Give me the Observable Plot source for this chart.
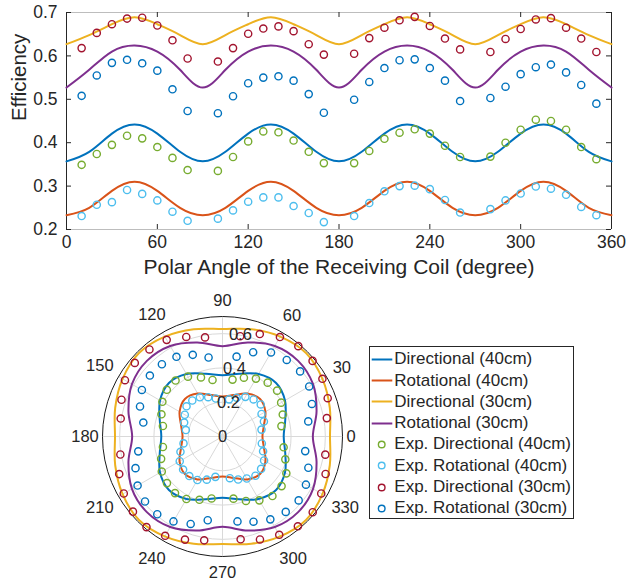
<!DOCTYPE html>
<html>
<head>
<meta charset="utf-8">
<script src="https://cdn.jsdelivr.net/npm/d3@7"></script>
<script src="https://cdn.jsdelivr.net/npm/@observablehq/plot@0.6"></script>
<style>
  body { margin: 0; background: #fff; }
  #wrap { position: relative; width: 626px; height: 580px; font-family: "Liberation Sans", Arial, Helvetica, sans-serif; color: #262626; }
  #top { position: absolute; left: 0; top: 0; }
  #polar { position: absolute; left: 0; top: 290px; }
  #legend { position: absolute; left: 369px; top: 346px; width: 205px; height: 173px; box-sizing: border-box;
            border: 1px solid #262626; background: #fff; padding-top: 1.6px; }
  .row { height: 21.3px; display: flex; align-items: center; font-size: 17px; white-space: nowrap; }
  .row svg { flex: none; }
</style>
</head>
<body>
<div id="wrap">
  <div id="top"></div>
  <div id="polar"></div>
  <div id="legend"></div>
</div>
<script>
// ---------- data ----------
const seriesNames = ["Directional (40cm)", "Rotational (40cm)", "Directional (30cm)", "Rotational (30cm)",
  "Exp. Directional (40cm)", "Exp. Rotational (40cm)", "Exp. Directional (30cm)", "Exp. Rotational (30cm)"];
const seriesColors = ["#0072BD", "#D95319", "#EDB120", "#7E2F8E", "#77AC30", "#4DBEEE", "#A2142F", "#0072BD"];

const simAngles = [0, 15, 30, 45, 60, 75, 90, 105, 120, 135, 150, 165, 180, 195, 210, 225, 240, 255, 270, 285, 300, 315, 330, 345, 360];
const simDir40 = [0.357, 0.379, 0.421, 0.442, 0.421, 0.379, 0.357, 0.379, 0.421, 0.442, 0.421, 0.379, 0.357, 0.379, 0.421, 0.442, 0.421, 0.379, 0.357, 0.379, 0.421, 0.442, 0.421, 0.379, 0.357];
const simRot40 = [0.233, 0.250, 0.289, 0.310, 0.289, 0.250, 0.233, 0.250, 0.289, 0.310, 0.289, 0.250, 0.233, 0.250, 0.289, 0.310, 0.289, 0.250, 0.233, 0.250, 0.289, 0.310, 0.289, 0.250, 0.233];
const simDir30 = [0.627, 0.648, 0.673, 0.689, 0.673, 0.648, 0.627, 0.648, 0.673, 0.689, 0.673, 0.648, 0.627, 0.648, 0.673, 0.689, 0.673, 0.648, 0.627, 0.648, 0.673, 0.689, 0.673, 0.648, 0.627];
const simRot30 = [0.527, 0.568, 0.610, 0.624, 0.610, 0.568, 0.527, 0.568, 0.610, 0.624, 0.610, 0.568, 0.527, 0.568, 0.610, 0.624, 0.610, 0.568, 0.527, 0.568, 0.610, 0.624, 0.610, 0.568, 0.527];

const expAngles = [10, 20, 30, 40, 50, 60, 70, 80, 100, 110, 120, 130, 140, 150, 160, 170,
  190, 200, 210, 220, 230, 240, 250, 260, 280, 290, 300, 310, 320, 330, 340, 350];
const expDir40 = [0.349, 0.374, 0.395, 0.416, 0.410, 0.390, 0.365, 0.337, 0.335, 0.367, 0.403, 0.426, 0.424, 0.405, 0.379, 0.353,
  0.353, 0.381, 0.409, 0.423, 0.431, 0.421, 0.393, 0.367, 0.368, 0.400, 0.430, 0.453, 0.450, 0.430, 0.390, 0.362];
const expRot40 = [0.231, 0.257, 0.263, 0.291, 0.282, 0.267, 0.241, 0.220, 0.225, 0.244, 0.264, 0.274, 0.274, 0.254, 0.238, 0.217,
  0.231, 0.261, 0.288, 0.300, 0.301, 0.293, 0.268, 0.239, 0.247, 0.267, 0.283, 0.299, 0.294, 0.280, 0.252, 0.233];
const expDir30 = [0.618, 0.653, 0.673, 0.686, 0.688, 0.670, 0.636, 0.594, 0.587, 0.618, 0.651, 0.663, 0.668, 0.657, 0.627, 0.603,
  0.605, 0.641, 0.665, 0.682, 0.690, 0.669, 0.640, 0.615, 0.609, 0.639, 0.662, 0.684, 0.687, 0.665, 0.640, 0.609];
const expRot30 = [0.508, 0.555, 0.584, 0.591, 0.583, 0.566, 0.523, 0.473, 0.468, 0.507, 0.537, 0.550, 0.553, 0.543, 0.512, 0.469,
  0.499, 0.540, 0.572, 0.590, 0.592, 0.572, 0.543, 0.496, 0.503, 0.529, 0.558, 0.574, 0.580, 0.562, 0.533, 0.490];

const xTicks = [0, 60, 120, 180, 240, 300, 360];
const yTicks = [0.2, 0.3, 0.4, 0.5, 0.6, 0.7];
const thetaTicks = [0, 30, 60, 90, 120, 150, 180, 210, 240, 270, 300, 330];
const rTicks = [0, 0.2, 0.4, 0.6];
const rMax = 0.7;
const xTitle = "Polar Angle of the Receiving Coil (degree)";
const yTitle = "Efficiency";

// ---------- tables ----------
const simSets = [[seriesNames[0], simDir40], [seriesNames[1], simRot40], [seriesNames[2], simDir30], [seriesNames[3], simRot30]];
const expSets = [[seriesNames[4], expDir40], [seriesNames[5], expRot40], [seriesNames[6], expDir30], [seriesNames[7], expRot30]];
const simRows = simSets.flatMap(([s, vals]) => simAngles.map((a, i) => ({series: s, angle: a, value: vals[i]})));
const expRows = expSets.flatMap(([s, vals]) => expAngles.map((a, i) => ({series: s, angle: a, value: vals[i]})));

const font = '"Liberation Sans", Arial, Helvetica, sans-serif';
const ink = "#262626";
const colorScale = {domain: seriesNames, range: seriesColors};

// ---------- top chart ----------
const H = 290, mT = 12, mB = 61, mL = 66, mR = 15;
const fw = 626 - mL - mR, fh = H - mT - mB, tk = 5;
const topPlot = Plot.plot({
  width: 626, height: H, marginLeft: mL, marginRight: mR, marginTop: mT, marginBottom: mB,
  x: {domain: [0, 360], axis: null},
  y: {domain: [0.2, 0.7], axis: null},
  color: colorScale,
  style: {fontFamily: font, fontSize: "17px", color: ink, background: "transparent", overflow: "visible"},
  marks: [
    Plot.ruleY([0.2, 0.7], {stroke: "#bdbdbd", strokeWidth: 1}),
    Plot.ruleX([0, 360], {stroke: ink, strokeWidth: 1}),
    Plot.tickX(xTicks, {x: d => d, insetTop: fh - tk, stroke: ink}),
    Plot.tickX(xTicks, {x: d => d, insetBottom: fh - tk, stroke: ink}),
    Plot.tickY(yTicks, {y: d => d, insetRight: fw - tk, stroke: ink}),
    Plot.tickY(yTicks, {y: d => d, insetLeft: fw - tk, stroke: ink}),
    Plot.line(simRows, {x: "angle", y: "value", z: "series", stroke: "series", strokeWidth: 2, curve: "natural"}),
    Plot.dot(expRows, {x: "angle", y: "value", stroke: "series", r: 3.6, strokeWidth: 1.4, fill: "none"}),
    Plot.text(xTicks, {x: d => d, frameAnchor: "bottom", dy: 18, text: d => String(d), fontSize: 17.5, fill: ink}),
    Plot.text(yTicks, {y: d => d, frameAnchor: "left", dx: -9, textAnchor: "end", text: d => d.toFixed(1), fontSize: 17.5, fill: ink}),
    Plot.text([xTitle], {frameAnchor: "bottom", dy: 44, fontSize: 21, fill: ink}),
    Plot.text([yTitle], {frameAnchor: "left", dx: -47, rotate: -90, fontSize: 20.5, fill: ink})
  ]
});
document.getElementById("top").appendChild(topPlot);

// ---------- polar chart ----------
const rad = Math.PI / 180;
const Rpx = 120;
const pxToR = rMax / Rpx;
const cx = d => d.value * Math.cos(d.angle * rad);
const cy = d => d.value * Math.sin(d.angle * rad);
function labelRadius(a) {
  const len = String(a).length;
  const c = Math.abs(Math.cos(a * rad)), s = Math.abs(Math.sin(a * rad));
  return (124 + c * (9 * len) / 2 + s * 12) * pxToR;
}
const polarPlot = Plot.plot({
  width: 360, height: 290, marginLeft: 102, marginRight: 18, marginTop: 26, marginBottom: 24,
  x: {domain: [-rMax, rMax], axis: null},
  y: {domain: [-rMax, rMax], axis: null},
  r: {type: "linear", domain: [0, rMax], range: [0, Rpx]},
  color: colorScale,
  style: {fontFamily: font, fontSize: "16.5px", color: ink, background: "transparent", overflow: "visible"},
  marks: [
    Plot.dot(rTicks.filter(d => d > 0), {x: () => 0, y: () => 0, r: d => d, stroke: "#d9d9d9", strokeWidth: 1, fill: "none"}),
    Plot.link(thetaTicks, {x1: () => 0, y1: () => 0, x2: d => rMax * Math.cos(d * rad), y2: d => rMax * Math.sin(d * rad), stroke: "#d9d9d9", strokeWidth: 1}),
    Plot.dot([rMax], {x: () => 0, y: () => 0, r: d => d, stroke: "#1a1a1a", strokeWidth: 1, fill: "none"}),
    Plot.line(simRows.filter(d => d.angle < 360), {x: cx, y: cy, z: "series", stroke: "series", strokeWidth: 2, curve: "catmull-rom-closed"}),
    Plot.dot(expRows, {x: cx, y: cy, stroke: "series", r: 3.6, strokeWidth: 1.4, fill: "none"}),
    Plot.text(thetaTicks, {x: d => labelRadius(d) * Math.cos(d * rad), y: d => labelRadius(d) * Math.sin(d * rad), text: d => String(d), fontSize: 16.5, fill: ink}),
    Plot.text(rTicks, {x: d => d * Math.cos(80 * rad), y: d => d * Math.sin(80 * rad), text: d => String(d), fontSize: 16.5, fill: ink})
  ]
});
document.getElementById("polar").appendChild(polarPlot);

// ---------- legend ----------
const legend = document.getElementById("legend");
seriesNames.forEach((name, i) => {
  const row = document.createElement("div");
  row.className = "row";
  const isLine = i < 4;
  const sample = isLine
    ? `<line x1="1.7" x2="22.3" y1="10.5" y2="10.5" stroke="${seriesColors[i]}" stroke-width="2"/>`
    : `<circle cx="11.7" cy="10.5" r="3.3" fill="none" stroke="${seriesColors[i]}" stroke-width="1.4"/>`;
  row.innerHTML = `<svg width="24.3" height="21" viewBox="0 0 24.3 21">${sample}</svg><span>${name}</span>`;
  legend.appendChild(row);
});
</script>
</body>
</html>
